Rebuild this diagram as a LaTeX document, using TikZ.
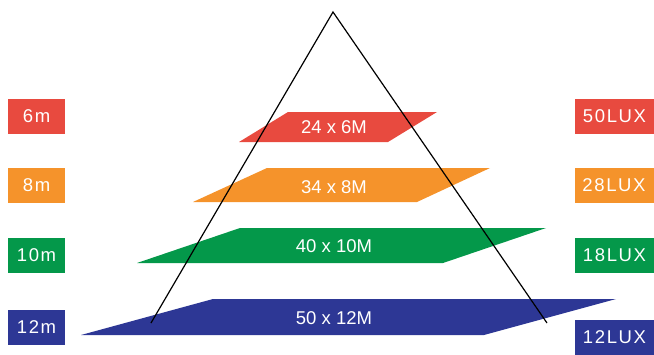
\documentclass[tikz,border=0pt]{standalone}
\usepackage{fontspec}
\setmainfont{Liberation Sans}
\newfontfamily\tagfont[LetterSpace=9]{Liberation Sans}
\usetikzlibrary{positioning}
\definecolor{lvred}{HTML}{E84A3F}
\definecolor{lvorange}{HTML}{F5932B}
\definecolor{lvgreen}{HTML}{04984A}
\definecolor{lvblue}{HTML}{2D3795}

\begin{document}
\begin{tikzpicture}[x=1pt,y=-1pt,
  tag/.style={fill=#1,text=white,minimum height=35pt,inner sep=0pt,font=\tagfont\fontsize{18.5}{19}\selectfont},
  hgt/.style={tag=#1,minimum width=57pt},
  lux/.style={tag=#1,minimum width=79pt},
  dim/.style={text=white,inner sep=0pt,font=\fontsize{18.5}{19}\selectfont},
  edge/.style={line width=1.2pt,black}]
\useasboundingbox (0,0) rectangle (654,354);
% light planes
\fill[lvred] (288,112) -- (437,112) -- (388,142) -- (239,142) -- cycle;
\fill[lvorange] (267,168) -- (490,168) -- (417,202) -- (193,202) -- cycle;
\fill[lvgreen] (240,228) -- (546,228) -- (443,263) -- (137,263) -- cycle;
\fill[lvblue] (213,299) -- (616,299) -- (484,335) -- (81,335) -- cycle;
\node[dim] (p6) at (334,127) {24 x 6M};
\node[dim] (p8) at (334,187) {34 x 8M};
\node[dim] (p10) at (334,246) {40 x 10M};
\node[dim] (p12) at (334,318) {50 x 12M};
% beam
\coordinate (top) at (333,12);
\coordinate (footl) at (151,323);
\coordinate (footr) at (547,323);
\draw[edge] (footl) -- (top) -- (footr);
% heights
\node[hgt=lvred] (h6) at (36.5,116.5) {6m};
\node[hgt=lvorange] (h8) at (36.5,185) {8m};
\node[hgt=lvgreen] (h10) at (36.5,255.5) {10m};
\node[hgt=lvblue] (h12) at (36.5,327.5) {12m};
% illuminance
\node[lux=lvred] (l50) at (614.5,116.5) {50LUX};
\node[lux=lvorange] (l28) at (614,185) {28LUX};
\node[lux=lvgreen] (l18) at (614.5,255.5) {18LUX};
\node[lux=lvblue] (l12) at (614.5,337.5) {12LUX};
\end{tikzpicture}
\end{document}
